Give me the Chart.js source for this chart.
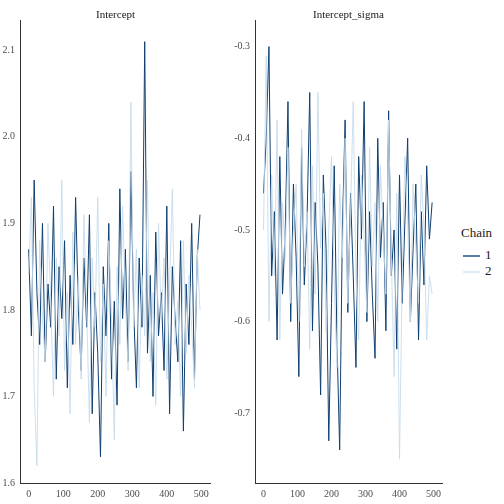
<!DOCTYPE html>
<html><head><meta charset="utf-8">
<script src="https://cdn.jsdelivr.net/npm/chart.js@4/dist/chart.umd.min.js"></script>
<style>
body{margin:0;background:#fff;font-family:"Liberation Serif",serif;}
.box{position:absolute;top:0;height:504px;}
.ttl{position:absolute;top:8px;font-size:11px;color:#1a1a1a;}
</style></head><body>
<div class="box" style="left:0;width:214px"><canvas id="c1"></canvas></div>
<div class="box" style="left:222px;width:224px"><canvas id="c2"></canvas></div>
<div class="ttl" style="left:96px">Intercept</div>
<div class="ttl" style="left:313px">Intercept_sigma</div>
<div style="position:absolute;left:461px;top:225px;font-size:13px;color:#1a1a1a">Chain
 <div style="position:relative;margin-top:6px;height:16px"><span style="position:absolute;left:2px;top:8px;width:17px;height:2px;background:#5a7fa8"></span><span style="position:absolute;left:24px;top:0">1</span></div>
 <div style="position:relative;height:16px"><span style="position:absolute;left:2px;top:8px;width:17px;height:2px;background:#e0ebf3"></span><span style="position:absolute;left:24px;top:0">2</span></div>
</div>
<script>
// iterations are sampled every 8 steps
var step = 8;
var xTicks = [0, 100, 200, 300, 400, 500];
var intercept1 = [1.87,1.77,1.95,1.82,1.76,1.9,1.74,1.83,1.78,1.92,1.72,1.85,1.79,1.88,1.71,1.84,1.76,1.93,1.8,1.73,1.86,1.78,1.91,1.68,1.82,1.75,1.63,1.85,1.77,1.9,1.72,1.81,1.69,1.94,1.79,1.87,1.74,1.96,1.8,1.71,1.86,1.78,2.11,1.75,1.84,1.7,1.89,1.77,1.82,1.73,1.92,1.68,1.85,1.79,1.74,1.88,1.66,1.83,1.76,1.9,1.72,1.86,1.91];
var intercept2 = [1.84,1.93,1.71,1.62,1.88,1.79,1.74,1.9,1.81,1.7,1.86,1.77,1.95,1.73,1.82,1.68,1.89,1.76,1.84,1.72,1.91,1.8,1.67,1.86,1.78,1.93,1.74,1.83,1.7,1.88,1.79,1.65,1.85,1.76,1.92,1.81,1.73,2.04,1.78,1.87,1.71,1.84,1.77,1.95,1.74,1.82,1.69,1.9,1.79,1.86,1.72,1.83,1.94,1.76,1.81,1.7,1.88,1.75,1.84,1.78,1.71,1.87,1.8];
var sigma1 = [-0.46,-0.4,-0.3,-0.55,-0.48,-0.62,-0.42,-0.57,-0.5,-0.36,-0.6,-0.45,-0.53,-0.66,-0.41,-0.56,-0.49,-0.35,-0.61,-0.47,-0.54,-0.68,-0.44,-0.52,-0.73,-0.58,-0.43,-0.62,-0.74,-0.5,-0.38,-0.59,-0.46,-0.55,-0.65,-0.42,-0.51,-0.36,-0.6,-0.48,-0.57,-0.64,-0.4,-0.53,-0.47,-0.61,-0.37,-0.55,-0.5,-0.63,-0.44,-0.58,-0.49,-0.4,-0.6,-0.52,-0.45,-0.62,-0.48,-0.56,-0.43,-0.51,-0.47];
var sigma2 = [-0.5,-0.31,-0.6,-0.44,-0.55,-0.38,-0.62,-0.47,-0.53,-0.41,-0.58,-0.5,-0.45,-0.6,-0.39,-0.54,-0.48,-0.63,-0.43,-0.57,-0.35,-0.52,-0.46,-0.61,-0.5,-0.42,-0.56,-0.65,-0.45,-0.53,-0.4,-0.58,-0.48,-0.36,-0.55,-0.62,-0.44,-0.51,-0.59,-0.41,-0.54,-0.47,-0.6,-0.43,-0.5,-0.57,-0.38,-0.53,-0.66,-0.46,-0.75,-0.55,-0.42,-0.49,-0.6,-0.45,-0.52,-0.58,-0.44,-0.5,-0.62,-0.55,-0.57];

function pts(arr){ return arr.map(function(v,i){ return {x:i*step, y:v}; }); }

function makeChart(id, a, b, ymin, ymax, yTicks, yw){
  var tick = {color:'#4d4d4d', font:{family:'Liberation Serif', size:10}, padding:2};
  return new Chart(document.getElementById(id), {
    type:'line',
    data:{datasets:[
      {data:pts(b), borderColor:'rgba(200,219,235,0.9)', borderWidth:1, pointRadius:0, tension:0},
      {data:pts(a), borderColor:'#0f3f70', borderWidth:1, pointRadius:0, tension:0}
    ]},
    options:{
      responsive:true, maintainAspectRatio:false, animation:false,
      layout:{padding:{top:20,bottom:2,right:4}},
      plugins:{legend:{display:false}, tooltip:{enabled:false}},
      scales:{
        x:{type:'linear', min:-25, max:525, grid:{display:false, tickLength:3, drawOnChartArea:false},
           border:{color:'#333'}, ticks:tick,
           afterBuildTicks:function(s){ s.ticks = xTicks.map(function(v){return {value:v};}); }},
        y:{min:ymin, max:ymax, grid:{display:false, tickLength:3, drawOnChartArea:false},
           border:{color:'#333'}, afterFit:function(s){s.width=yw;},
           ticks:Object.assign({callback:function(v){return v.toFixed(1);}}, tick),
           afterBuildTicks:function(s){ s.ticks = yTicks.map(function(v){return {value:v};}); }}
      }
    }
  });
}
makeChart('c1', intercept1, intercept2, 1.6, 2.135, [1.6,1.7,1.8,1.9,2.0,2.1], 20);
makeChart('c2', sigma1, sigma2, -0.776, -0.271, [-0.7,-0.6,-0.5,-0.4,-0.3], 33);
</script>
</body></html>
